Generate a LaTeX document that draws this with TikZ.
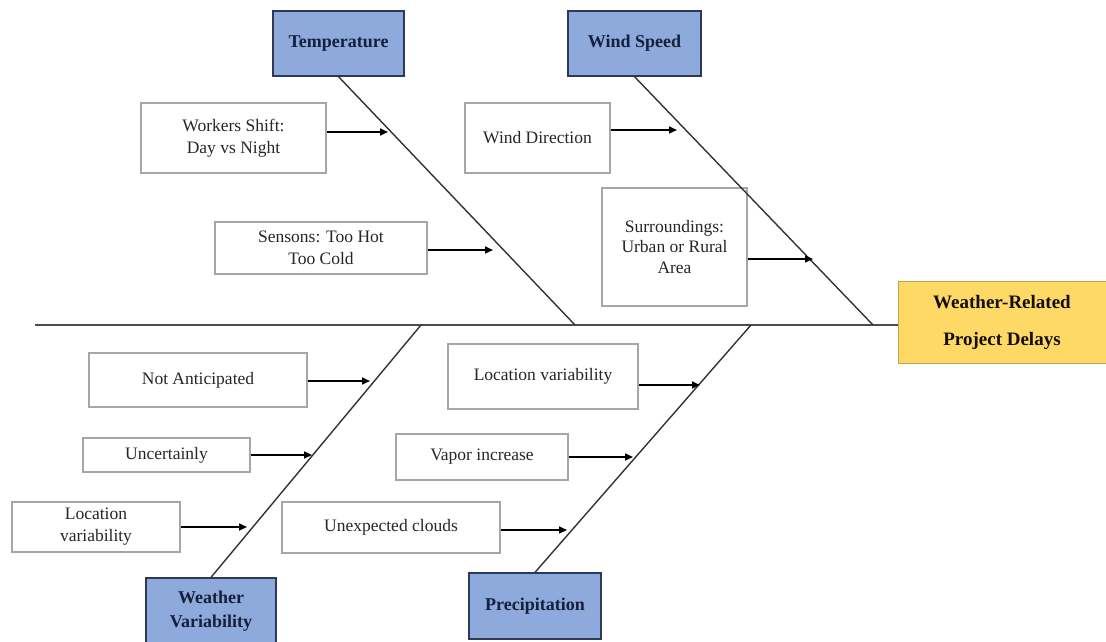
\documentclass[tikz,border=0pt]{standalone}
\usepackage{fontspec}
\setmainfont{Liberation Serif}
\usepackage{xcolor}
\usepackage{tikz}
\usetikzlibrary{arrows.meta}
\definecolor{catblue}{HTML}{8EA9DB}
\definecolor{catedge}{HTML}{2E3A55}
\definecolor{cattext}{HTML}{15203A}
\definecolor{effyellow}{HTML}{FFD966}
\tikzset{
    cause/.style={draw=gray!70, line width=1.1pt, align=center,
        text=black!85, font=\fontsize{17.5}{22}\selectfont, inner sep=2pt},
    category/.style={draw=catedge, line width=1.3pt, fill=catblue, align=center,
        text=cattext, font=\fontsize{18}{24}\bfseries\selectfont,
        minimum width=131, minimum height=65},
    effect/.style={draw=effyellow!75!black, fill=effyellow, align=center,
        text=black!90!brown, font=\fontsize{19}{37}\bfseries\selectfont,
        minimum width=208, minimum height=82},
    bone/.style={line width=1.4pt, draw=black!80},
    feed/.style={line width=1.6pt, -{Triangle[length=8pt,width=7pt]}}
}
\begin{document}
\begin{tikzpicture}[x=1pt, y=-1pt]
            \useasboundingbox (0,0) rectangle (1106,642);

            % head and spine
            \node[effect] (delay) at (1002,322) {Weather-Related\\Project Delays};
            \coordinate (tail) at (35,325);
            \draw[line width=2pt, draw=black!70] (tail) -- (delay.west |- tail);

            % categories
            \node[category] (temp) at (338.5,43.5) {Temperature};
            \node[category, minimum width=133] (wind) at (634.5,43.5) {Wind Speed};
            \node[category, minimum width=130, minimum height=66] (wvar) at (211,611) {Weather\\Variability};
            \node[category, minimum width=132, minimum height=66] (prec) at (535,606) {Precipitation};

            \coordinate (tj) at (575,325);
            \coordinate (wj) at (873,325);
            \coordinate (vj) at (421,325);
            \coordinate (pj) at (751,325);

            % causes
            \node[cause, minimum width=185, minimum height=70] (shift) at (233.5,138) {Workers Shift:\\Day vs Night};
            \node[cause, minimum width=212, minimum height=52] (season) at (321,248) {Sensons: Too Hot\\Too Cold};
            \node[cause, minimum width=145, minimum height=70] (wdir) at (537.5,138) {Wind Direction};
            \node[cause, minimum width=145, minimum height=118, font=\fontsize{17.5}{20.5}\selectfont] (surr) at (674.5,247) {Surroundings:\\Urban or Rural\\Area};

            \node[cause, minimum width=218, minimum height=54] (antic) at (198,380) {Not Anticipated};
            \node[cause, minimum width=167, minimum height=34] (uncert) at (166.5,455) {Uncertainly};
            \node[cause, minimum width=168, minimum height=50] (locl) at (96,527) {Location\\variability};

            \node[cause, minimum width=190, minimum height=65] (locr) at (543,376.5) {Location variability};
            \node[cause, minimum width=172, minimum height=46] (vapor) at (482,457) {Vapor increase};
            \node[cause, minimum width=218, minimum height=51] (cloud) at (391,527.5) {Unexpected clouds};

            % bones
            \draw[bone] (temp.south) -- (tj);
            \draw[bone] (wind.south) -- (wj);
            \draw[bone] (wvar.north) -- (vj);
            \draw[bone] (prec.north) -- (pj);

            % arrow ends on the bones
            \coordinate (e1) at (388,132);
            \coordinate (e2) at (493,250);
            \coordinate (e3) at (677,130);
            \coordinate (e4) at (813,259);
            \coordinate (e5) at (370,381);
            \coordinate (e6) at (312,455);
            \coordinate (e7) at (247,527);
            \coordinate (e8) at (700,385);
            \coordinate (e9) at (633,457);
            \coordinate (e10) at (567,530);

            \foreach \b/\e in {shift/e1, season/e2, wdir/e3, surr/e4, antic/e5,
                uncert/e6, locl/e7, locr/e8, vapor/e9, cloud/e10} {
                \draw[feed] (\b.east |- \e) -- (\e);
            }
        \end{tikzpicture}
\end{document}
